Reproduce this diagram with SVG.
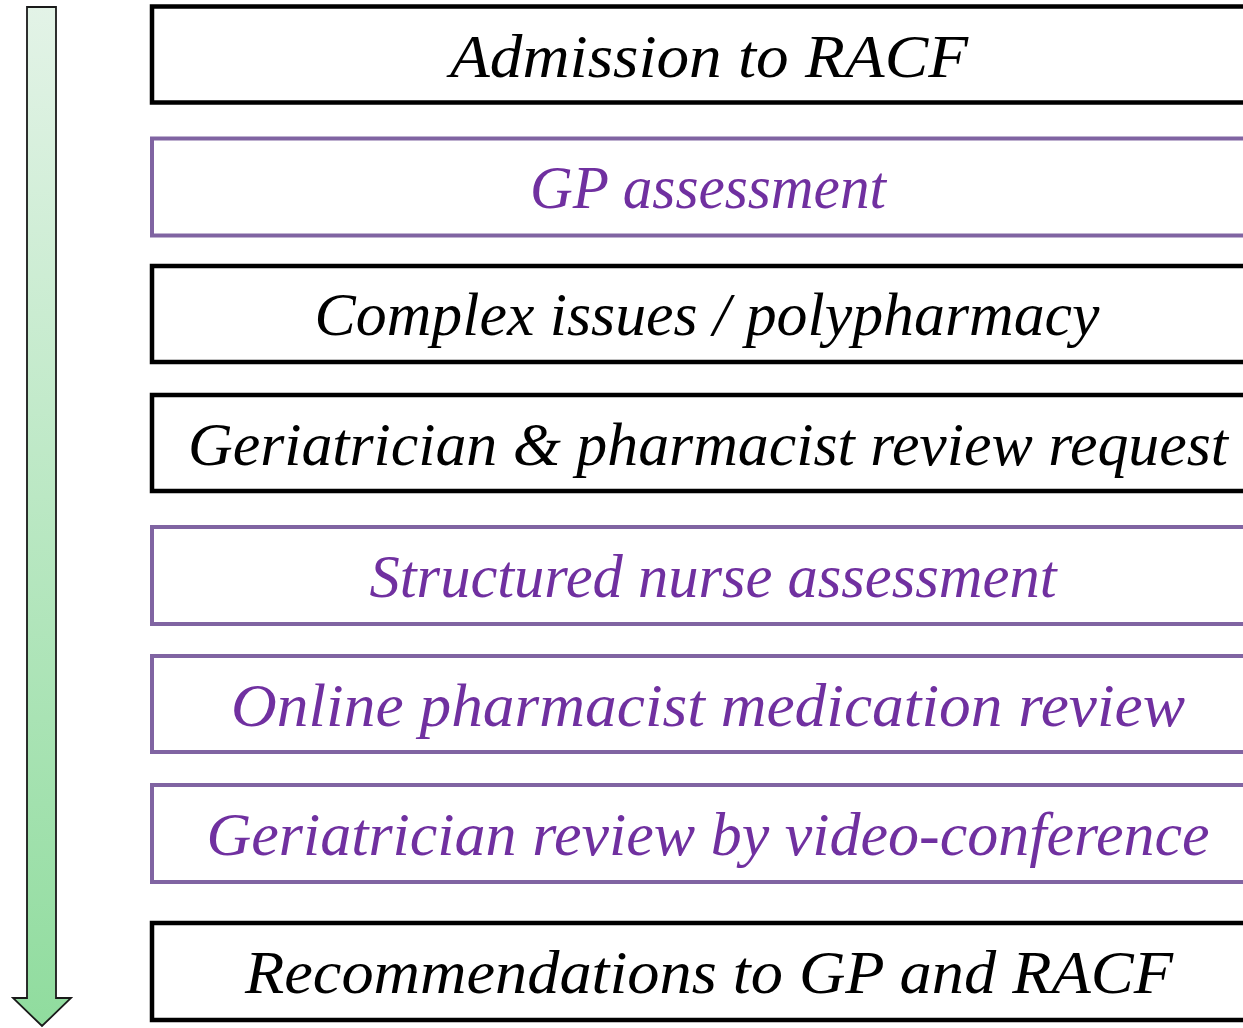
<svg xmlns="http://www.w3.org/2000/svg" width="1243" height="1028" viewBox="0 0 1243 1028">
<style>
.bk{fill:#fff;stroke:#000;stroke-width:4.5}
.pu{fill:#fff;stroke:#8064A2;stroke-width:4}
.t{font-family:"Liberation Serif",serif;font-style:italic;font-size:62px;text-anchor:middle}
.tb{fill:#000}
.tp{fill:#7030A0}
</style>
<defs>
<linearGradient id="g" x1="0" y1="0" x2="0" y2="1">
<stop offset="0" stop-color="#E3F3E7"/>
<stop offset="1" stop-color="#90DC9E"/>
</linearGradient>
</defs>
<g id="connectors">
<path d="M27,7 H56 V998 H71 L42,1026 L13,998 H27 Z" fill="url(#g)" stroke="#1a1a1a" stroke-width="1.8" stroke-linejoin="miter"/>
</g>
<g id="n1"><rect class="bk" x="152" y="6.5" width="1200" height="96"/><text class="t tb" x="709" y="77" textLength="518" lengthAdjust="spacingAndGlyphs">Admission to RACF</text></g>
<g id="n2"><rect class="pu" x="152" y="138.5" width="1200" height="97"/><text class="t tp" x="708" y="208" textLength="356" lengthAdjust="spacingAndGlyphs">GP assessment</text></g>
<g id="n3"><rect class="bk" x="152" y="266" width="1200" height="96"/><text class="t tb" x="707" y="335" textLength="785" lengthAdjust="spacingAndGlyphs">Complex issues / polypharmacy</text></g>
<g id="n4"><rect class="bk" x="152" y="395" width="1200" height="96"/><text class="t tb" x="708" y="465" textLength="1040" lengthAdjust="spacingAndGlyphs">Geriatrician &amp; pharmacist review request</text></g>
<g id="n5"><rect class="pu" x="152" y="527" width="1200" height="97"/><text class="t tp" x="713" y="597" textLength="687" lengthAdjust="spacingAndGlyphs">Structured nurse assessment</text></g>
<g id="n6"><rect class="pu" x="152" y="656" width="1200" height="96"/><text class="t tp" x="708" y="726" textLength="954" lengthAdjust="spacingAndGlyphs">Online pharmacist medication review</text></g>
<g id="n7"><rect class="pu" x="152" y="785" width="1200" height="97"/><text class="t tp" x="708" y="855" textLength="1003" lengthAdjust="spacingAndGlyphs">Geriatrician review by video-conference</text></g>
<g id="n8"><rect class="bk" x="152" y="923" width="1200" height="97"/><text class="t tb" x="709" y="993" textLength="928" lengthAdjust="spacingAndGlyphs">Recommendations to GP and RACF</text></g>
</svg>
